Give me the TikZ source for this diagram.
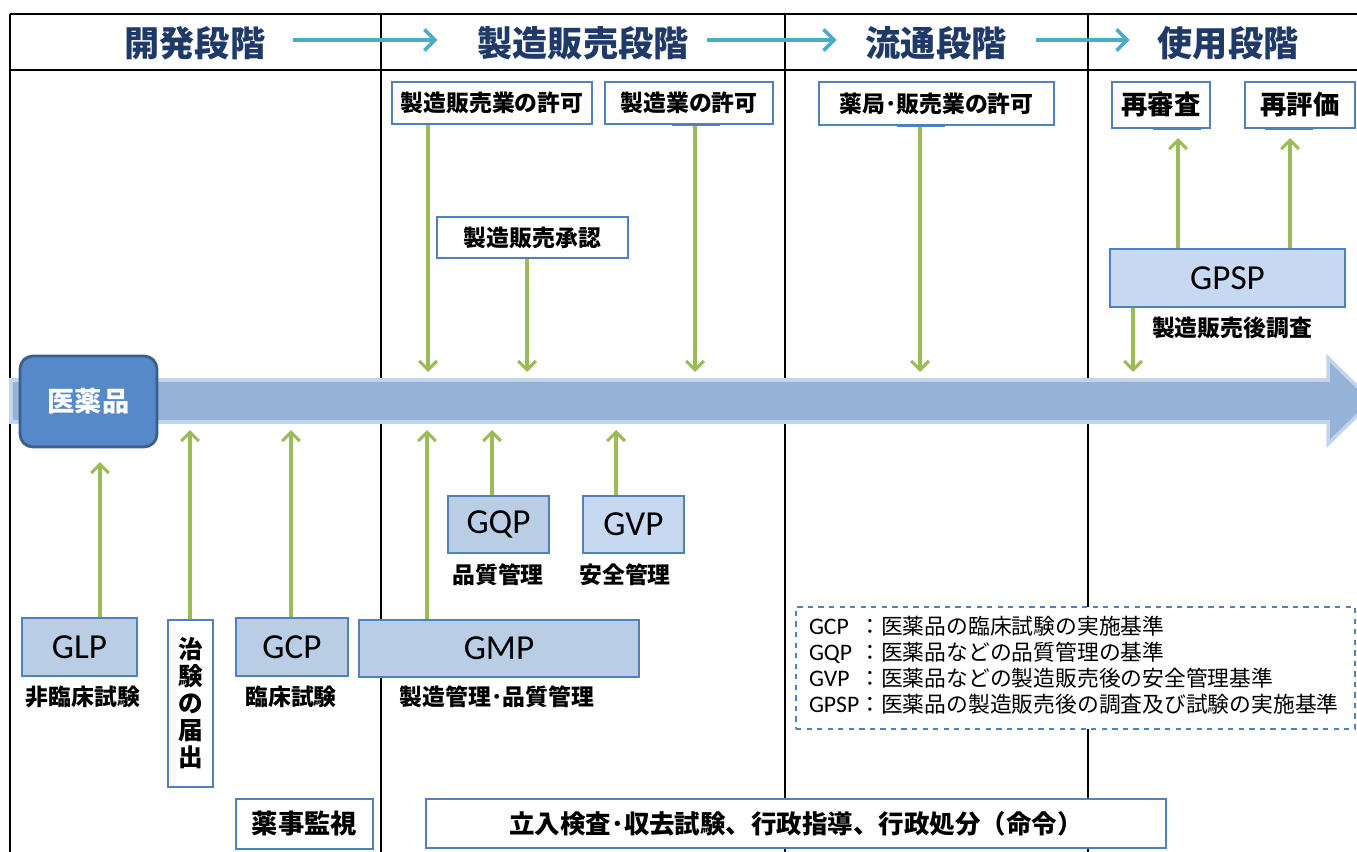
\documentclass[tikz,border=0pt]{standalone}
\usepackage{fontspec}
\setmainfont{Carlito}
\newfontfamily\jp{Noto Sans CJK JP}
\usetikzlibrary{arrows.meta,calc}
\definecolor{navy}{HTML}{1F3A68}
\definecolor{cyanA}{HTML}{4BACC6}
\definecolor{grn}{HTML}{9BBB59}
\definecolor{bdr}{HTML}{4F81BD}
\definecolor{fillA}{HTML}{B9CDE5}
\definecolor{fillB}{HTML}{C6D9F1}
\definecolor{bandF}{HTML}{95B3D7}
\definecolor{bandE}{HTML}{C3D5EC}
\definecolor{medF}{HTML}{5589C7}
\definecolor{medE}{HTML}{3A5F8F}
\begin{document}
\begin{tikzpicture}[x=0.02cm,y=-0.02cm,
 sz/.style 2 args={minimum width=#1*0.02cm, minimum height=#2*0.02cm, inner sep=0pt},
 wbox/.style={draw=bdr, line width=0.7pt, fill=white},
 gbox/.style={draw=bdr, line width=0.7pt, fill=fillA, font=\fontsize{20}{24}\selectfont},
 lbox/.style={gbox, fill=fillB},
 jlab/.style={font=\jp\bfseries\fontsize{13}{16}\selectfont},
 jmid/.style={font=\jp\bfseries\fontsize{14.5}{17}\selectfont},
 jbig/.style={font=\jp\bfseries\fontsize{15}{18}\selectfont},
 headtxt/.style={font=\jp\bfseries\fontsize{20}{24}\selectfont, text=navy},
 rulel/.style={line width=1.1pt, black},
 carr/.style={cyanA, line width=2pt, -{Straight Barb[length=6pt,width=12pt]}},
 garr/.style={grn, line width=1.8pt, -{Straight Barb[length=5pt,width=10pt]}},
 attm/.style={bdr, line width=1.6pt},
]
\useasboundingbox (0,0) rectangle (1357,852);
\clip (0,0) rectangle (1357,852);
\fill[white] (0,0) rectangle (1357,852);

% table rules
\draw[rulel] (10,14) -- (1360,14);
\draw[rulel] (10,70) -- (1360,70);
\foreach \xx in {10,381,785,1088} \draw[rulel] (\xx,14) -- (\xx,860);

% header
\node[headtxt] (h1) at (195,43) {開発段階};
\node[headtxt] (h2) at (583,43) {製造販売段階};
\node[headtxt] (h3) at (936,43) {流通段階};
\node[headtxt] (h4) at (1228,43) {使用段階};
\draw[carr] ($(h1.east)+(22,-3)$) -- ($(h2.west)+(-34,-3)$);
\draw[carr] ($(h2.east)+(12,-3)$) -- ($(h3.west)+(-23,-3)$);
\draw[carr] ($(h3.east)+(24,-3)$) -- ($(h4.west)+(-22,-3)$);

% big arrow band
\draw[fill=bandF, draw=bandE, line width=2pt, line join=miter]
  (11,380) -- (1328,380) -- (1328,358) -- (1372,401) -- (1328,444) -- (1328,422) -- (11,422) -- cycle;

% top boxes
\node[wbox, sz={200}{42}, jlab] (p1) at (492,103) {製造販売業の許可};
\node[wbox, sz={168}{42}, jlab] (p2) at (689,103) {製造業の許可};
\node[wbox, sz={191}{41}, jlab] (p3) at (532.5,237.5) {製造販売承認};
\node[wbox, sz={235}{43}, jlab] (p4) at (936.5,103.5) {薬局･販売業の許可};
\node[wbox, sz={98}{46}, jbig] (p5) at (1161,105) {再審査};
\node[wbox, sz={110}{46}, jbig] (p6) at (1300,105) {再評価};
\node[lbox, sz={235}{58}] (gpsp) at (1227.5,278) {GPSP};
\node[jlab] (gpspl) at (1232,328) {製造販売後調査};

% medicine box
\node[draw=medE, fill=medF, line width=1.6pt, rounded corners=0.26cm, sz={137}{91},
      text=white, font=\jp\bfseries\fontsize{15.5}{18}\selectfont] (med) at (88.5,401.5) {医薬品};

% bottom boxes
\node[gbox, sz={115}{58}] (glp) at (79.5,647) {GLP};
\node[jlab] (glpl) at (83,697) {非臨床試験};
\node[wbox, sz={45}{167}, align=center, font=\jp\bfseries\fontsize{14}{15.4}\selectfont] (chk) at (190.5,703.5) {治\\験\\の\\届\\出};
\node[gbox, sz={112}{58}] (gcp) at (292,647) {GCP};
\node[jlab] (gcpl) at (291,697) {臨床試験};
\node[gbox, sz={280}{57}] (gmp) at (499,648.5) {GMP};
\node[jlab] (gmpl) at (497,697) {製造管理･品質管理};
\node[gbox, sz={101}{57}] (gqp) at (498.5,524.5) {GQP};
\node[jlab] (gqpl) at (498,575) {品質管理};
\node[lbox, sz={101}{57}] (gvp) at (633.5,524.5) {GVP};
\node[jlab] (gvpl) at (625,575) {安全管理};
\node[wbox, sz={137}{50}, jbig] (yak) at (304.5,824) {薬事監視};
\node[wbox, sz={740}{49}, jmid] (tachi) at (796,823.5) {立入検査･収去試験、行政指導、行政処分（命令）};

% legend
\node[draw=bdr, dashed, line width=0.6pt, fill=white, minimum height=122*0.02cm,
      inner xsep=13*0.02cm, inner ysep=0pt, text width=533*0.02cm, align=left,
      font=\fontsize{13.5}{14.4}\selectfont] (leg) at (1075.5,668)
 {\begin{tabular}{@{}l@{}l@{}}
  GCP & {\jp\fontsize{12.4}{14.4}\selectfont ：医薬品の臨床試験の実施基準}\\
  GQP & {\jp\fontsize{12.4}{14.4}\selectfont ：医薬品などの品質管理の基準}\\
  GVP & {\jp\fontsize{12.4}{14.4}\selectfont ：医薬品などの製造販売後の安全管理基準}\\
  GPSP & {\jp\fontsize{12.4}{14.4}\selectfont ：医薬品の製造販売後の調査及び試験の実施基準}
 \end{tabular}};

% arrow target coordinates
\coordinate (d1) at (428,372);
\coordinate (d2) at (527,372);
\coordinate (d3) at (695,372);
\coordinate (d4) at (920,372);
\coordinate (d5) at (1133,372);
\coordinate (r1) at (1178,138);
\coordinate (r2) at (1290,138);
\coordinate (u1) at (100,462);
\coordinate (u2) at (190,430);
\coordinate (u3) at (291,430);
\coordinate (u4) at (427,430);
\coordinate (u5) at (492,430);
\coordinate (u6) at (616,430);

% green arrows down
\draw[garr] (p1.south -| d1) -- (d1);
\draw[garr] (p3.south -| d2) -- (d2);
\draw[garr] (p2.south -| d3) -- (d3);
\draw[garr] (p4.south -| d4) -- (d4);
\draw[garr] (gpsp.south -| d5) -- (d5);
% green arrows up
\draw[garr] (gpsp.north -| r1) -- (r1);
\draw[garr] (gpsp.north -| r2) -- (r2);
\draw[garr] (glp.north -| u1) -- (u1);
\draw[garr] (chk.north -| u2) -- (u2);
\draw[garr] (gcp.north -| u3) -- (u3);
\draw[garr] (gmp.north -| u4) -- (u4);
\draw[garr] (gqp.north -| u5) -- (u5);
\draw[garr] (gvp.north -| u6) -- (u6);

% attachment marks
\draw[attm] ($(p2.south -| d3)+(-23,0)$) -- ($(p2.south -| d3)+(25,0)$);
\draw[attm] ($(p4.south -| d4)+(-23,0)$) -- ($(p4.south -| d4)+(25,0)$);
\draw[attm] ($(p5.south -| r1)+(-25,0)$) -- ($(p5.south -| r1)+(23,0)$);
\draw[attm] ($(p6.south -| r2)+(-25,0)$) -- ($(p6.south -| r2)+(23,0)$);
\end{tikzpicture}
\end{document}
